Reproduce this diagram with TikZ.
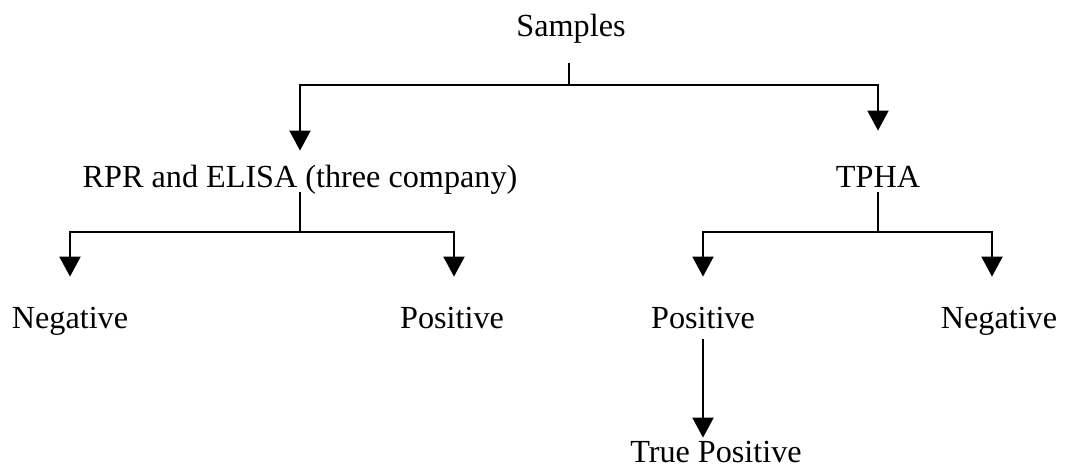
\documentclass[tikz,border=0pt]{standalone}
\usepackage{fontspec}
\setmainfont{Liberation Serif}
\usepackage{tikz}
\usetikzlibrary{arrows.meta}

\begin{document}
\begin{tikzpicture}[
    x=0.5pt, y=-0.5pt,
    >={Triangle[length=10pt, width=10.5pt]},
    label/.style={inner sep=0pt, anchor=base, text height=0.7em, text depth=0.25em,
                  font=\fontsize{16.1pt}{19pt}\selectfont},
    link/.style={draw, line width=1pt},
    every edge/.append style={draw, line width=1pt}
]
\useasboundingbox (0,0) rectangle (1065,466);

% Nodes :
\node[label] (samples) at (571, 36) {Samples};
\node[label] (rpr) at (300, 187) {RPR and ELISA (three company)};
\node[label] (tpha) at (878, 187) {TPHA};
\node[label] (negA) at (70, 328) {Negative};
\node[label] (posA) at (452, 328) {Positive};
\node[label] (posB) at (703, 328) {Positive};
\node[label] (negB) at (999, 328) {Negative};
\node[label] (truepos) at (716, 462) {True Positive};

\coordinate (forkS) at (569, 85);
\coordinate (forkR) at (300, 232);
\coordinate (forkT) at (878, 232);

% Edges :
\draw[link, shorten <=11pt] (samples.south -| forkS) -- (forkS);
\draw[link, ->, shorten >=11pt] (forkS) -| (rpr.north);
\draw[link, ->, shorten >=21pt] (forkS) -| (tpha.north);

\draw[link] (rpr.south) -- (forkR);
\draw[link, ->, shorten >=18.5pt] (forkR) -| (negA.north);
\draw[link, ->, shorten >=18.5pt] (forkR) -| ([xshift=1pt]posA.north);

\draw[link] (tpha.south) -- (forkT);
\draw[link, ->, shorten >=18.5pt] (forkT) -| (posB.north);
\draw[link, ->, shorten >=18.5pt] (forkT) -| ([xshift=-3.5pt]negB.north);

\draw[link, ->, shorten <=3pt, shorten >=5pt] (posB.south) -- (posB.south |- truepos.north);

\end{tikzpicture}
\end{document}
